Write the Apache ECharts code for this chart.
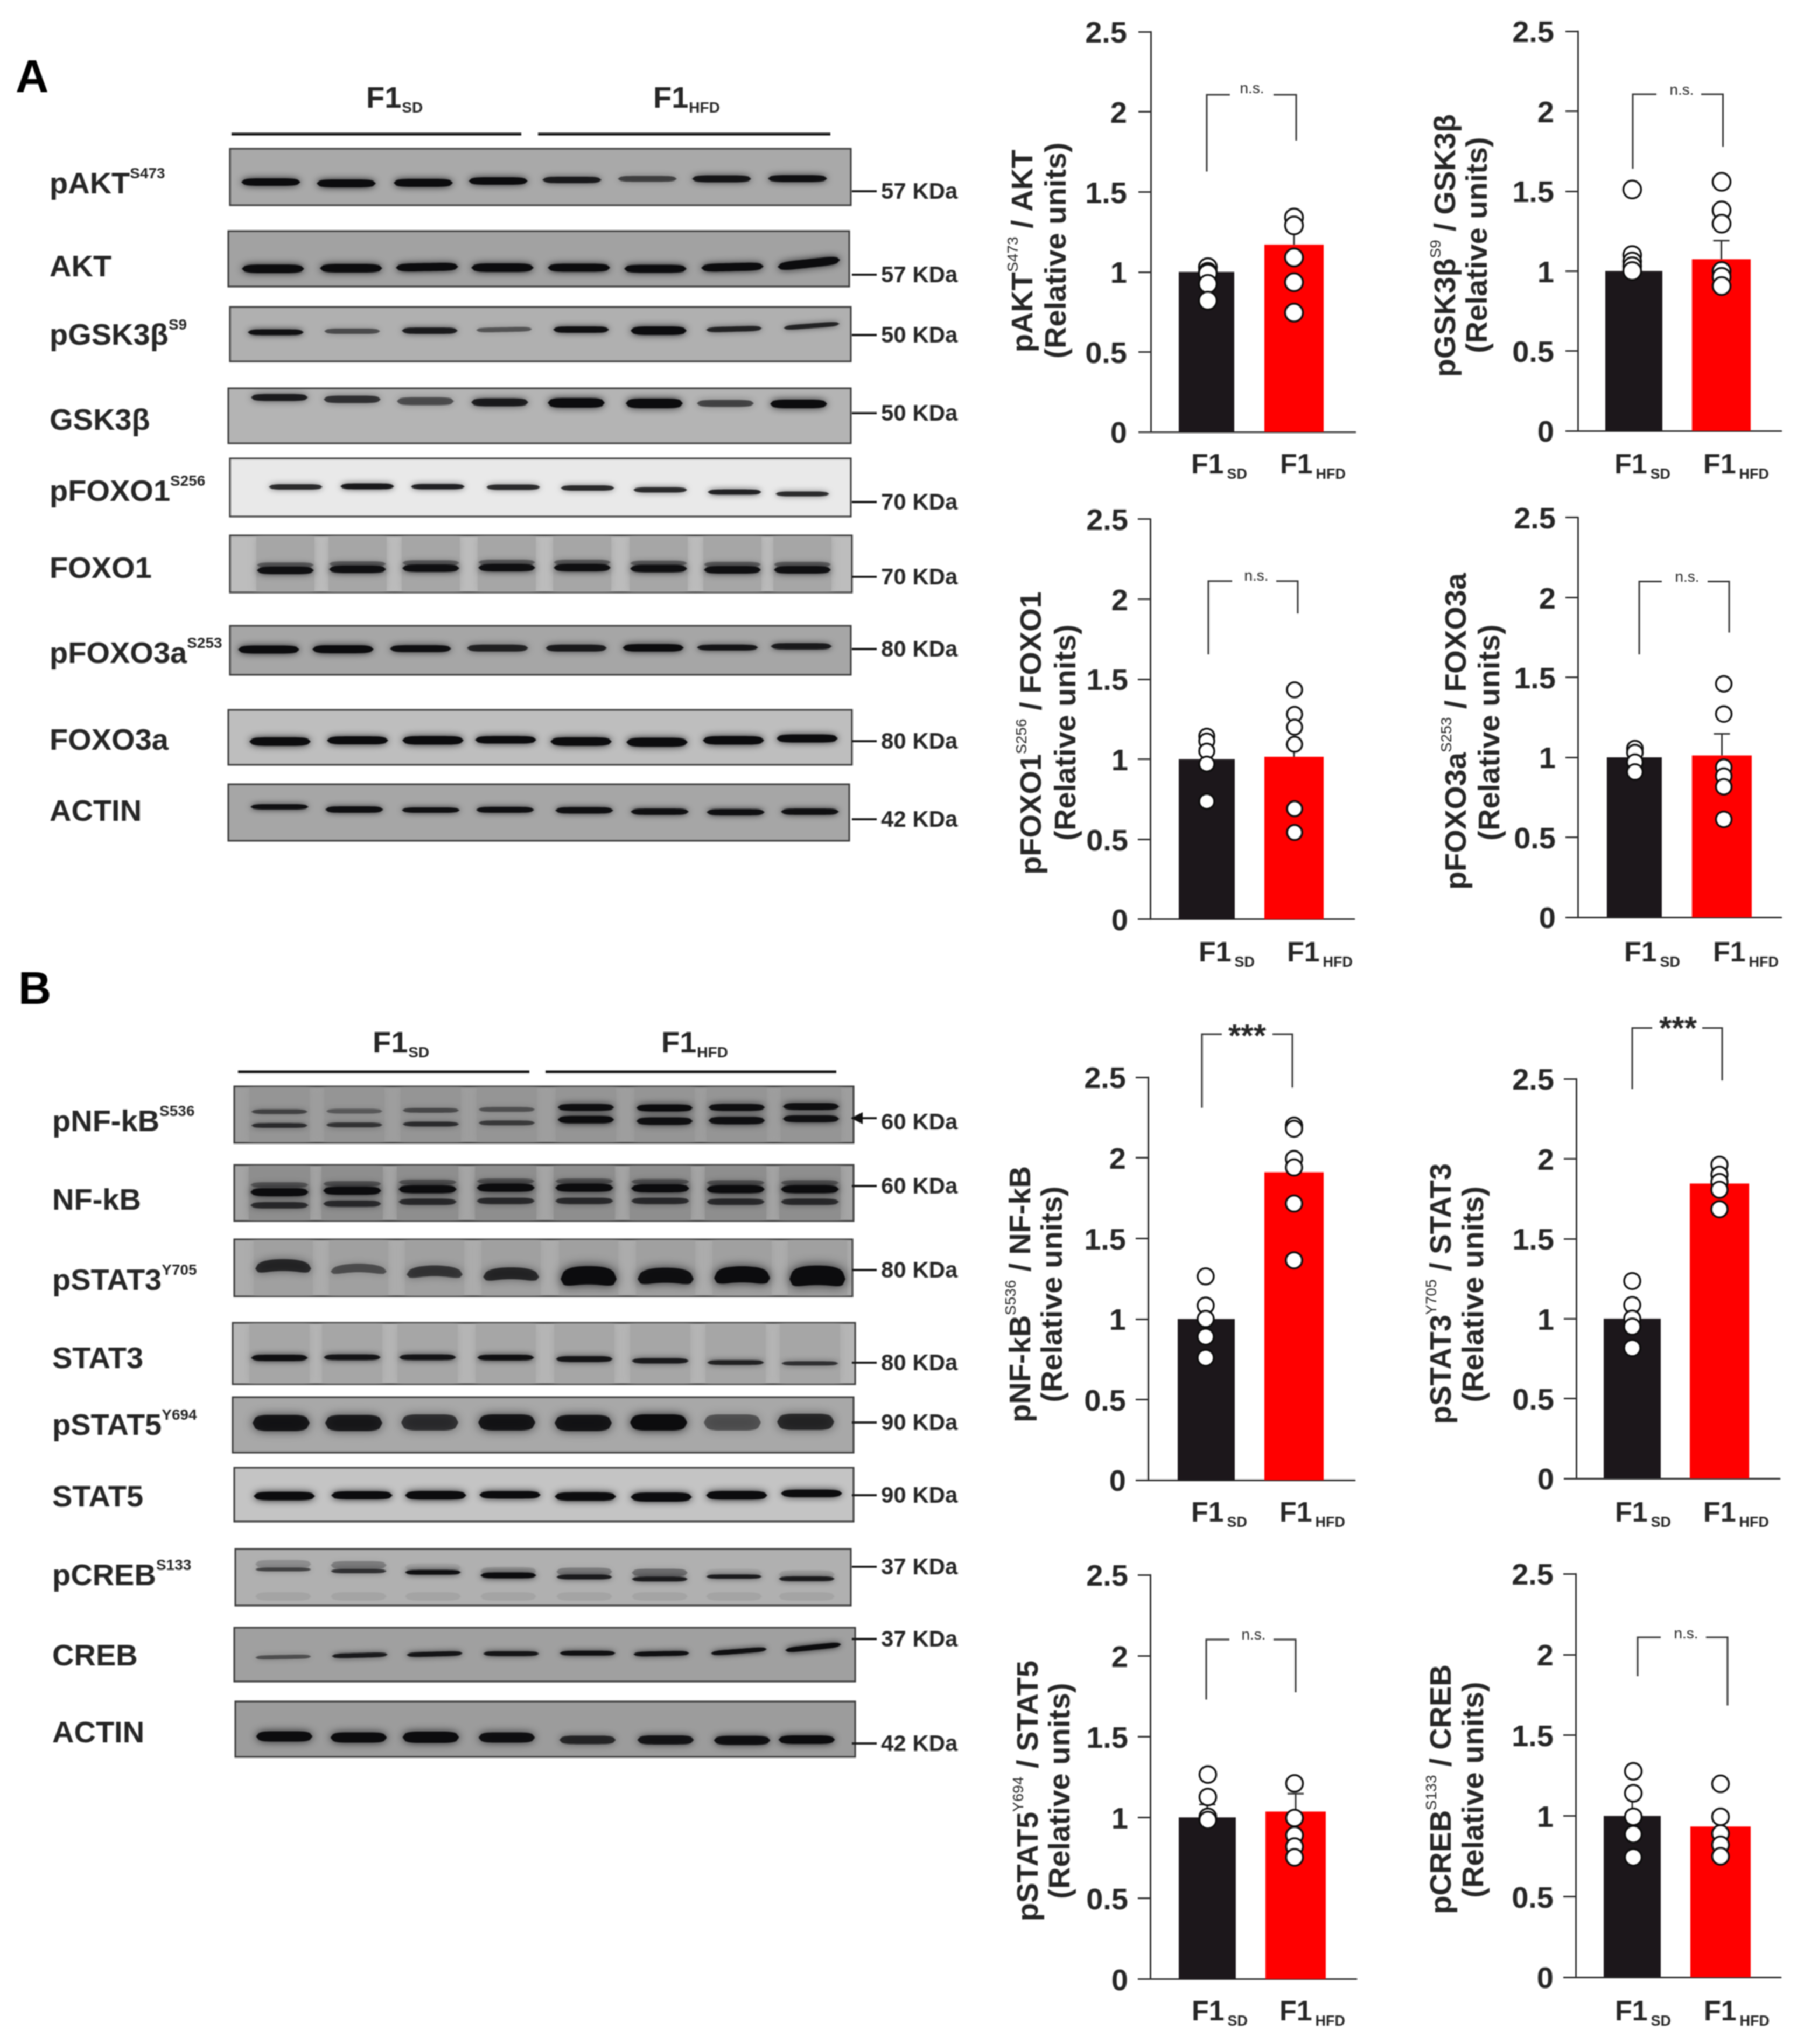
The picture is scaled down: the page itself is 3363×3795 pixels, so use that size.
<!DOCTYPE html>
<html><head><meta charset="utf-8">
<style>html,body{margin:0;padding:0;background:#fff}#c{width:3363px;height:3795px;filter:blur(1px)}</style>
<script src="https://cdn.jsdelivr.net/npm/echarts@6/dist/echarts.min.js"></script>
</head><body><div id="c"></div>
<script>
// ---------- chart values ----------
const groups=['SD','HFD'];
const yTicksMax=2.5, yTicksStep=0.5;
const panelNames=['pAKT','pGSK3β','pFOXO1','pFOXO3a','pNF-kB','pSTAT3','pSTAT5','pCREB'];
const meanSD =[1,1,1,1,1,1,1,1];
const meanHFD=[1.17,1.074,1.015,1.012,1.91,1.845,1.036,0.934];
const errSD  =[1.04,1.09,1.07,1.03,1.08,1.08,1.08,1.13];
const errHFD =[1.29,1.19,1.09,1.147,1.99,1.93,1.147,1.0];
const pts_pAKT_SD=[1.03,1.0,0.99,0.925,0.82];
const pts_pAKT_HFD=[1.34,1.29,1.09,0.935,0.745];
const pts_pGSK_SD=[1.51,1.10,1.06,1.03,1.0];
const pts_pGSK_HFD=[1.558,1.38,1.296,1.0,0.964,0.906];
const pts_pFOXO1_SD=[1.144,1.113,1.05,0.97,0.736];
const pts_pFOXO1_HFD=[1.433,1.28,1.2,1.093,0.69,0.542];
const pts_pFOXO3_SD=[1.055,1.03,0.97,0.908];
const pts_pFOXO3_HFD=[1.459,1.27,0.939,0.882,0.816,0.612];
const pts_pNFkB_SD=[1.264,1.083,1.0,0.89,0.759];
const pts_pNFkB_HFD=[2.2,2.18,1.993,1.94,1.716,1.364];
const pts_pSTAT3_SD=[1.235,1.085,1.0,0.95,0.816];
const pts_pSTAT3_HFD=[1.963,1.9,1.855,1.806,1.684];
const pts_pSTAT5_SD=[1.265,1.126,1.004,0.984];
const pts_pSTAT5_HFD=[1.21,0.996,0.89,0.82,0.753];
const pts_pCREB_SD=[1.276,1.14,0.994,0.886,0.743];
const pts_pCREB_HFD=[1.198,0.994,0.89,0.82,0.749];
const ptsSD=[pts_pAKT_SD,pts_pGSK_SD,pts_pFOXO1_SD,pts_pFOXO3_SD,pts_pNFkB_SD,pts_pSTAT3_SD,pts_pSTAT5_SD,pts_pCREB_SD];
const ptsHFD=[pts_pAKT_HFD,pts_pGSK_HFD,pts_pFOXO1_HFD,pts_pFOXO3_HFD,pts_pNFkB_HFD,pts_pSTAT3_HFD,pts_pSTAT5_HFD,pts_pCREB_HFD];
// bracket [left foot, top, right foot] in y-axis units, and its label
const bracketLevels=[[1.627,2.106,1.82],[1.64,2.106,1.777],[1.654,2.113,1.91],[1.643,2.10,1.78],[2.31,2.767,2.436],[2.436,2.818,2.49],[1.729,2.10,1.774],[1.866,2.106,1.684]];
const bracketText=['n.s.','n.s.','n.s.','n.s.','***','***','n.s.','n.s.'];

// ---------- blot readings: lane centre, band offset, band strength, band thickness ----------
const lane_pAKT=[503,643,786,925,1062,1202,1340,1481], y_pAKT=[62,64.5,63.5,60,58,56,56,55.5], d_pAKT=[1,1,1,1,.85,.6,.9,.95], t_pAKT=[12,13,13,12,10,9,11,11];
const lane_AKT=[507,652,793,933,1075,1217,1360,1502], y_AKT=[70,69,67,68,68,70,67,60], t_AKT=[14,14,13,14,13,13,13,14];
const lane_pGSK=[512,654,798,936,1079,1223,1363,1507], y_pGSK=[47,45,44,42,42,44,41,35], d_pGSK=[.95,.55,.85,.5,.95,1,.8,.8], t_pGSK=[9,8,10,7,10,14,8,7];
const lane_GSK=[519,654,790,928,1070,1215,1347,1483], y_GSK=[17,20.5,24,26,27,28,28,29], d_GSK=[.85,.7,.55,.85,1,1,.6,1], t_GSK=[11,12,13,13,16,16,11,14];
const lane_pFO1=[549,682,813,953,1091,1226,1364,1490], y_pFO1=[53,52,52.5,53.5,55,58.5,62.6,66], d_pFO1=[.8,.9,.85,.8,.8,.8,.85,.8], t_pFO1=[8,9,8,8,8,8,8,7];
const lane_FO1=[530,664,800,941,1081,1223,1360,1490], y_FO1=[65,63,61,60,60,61.7,64,64], yu_FO1=[55,53,51,50,50,51.7,54,54];
const lane_pFO3=[499,637,781,924,1070,1213,1351,1488], y_pFO3=[44,43.4,42.3,41.3,41.3,40.8,40.3,38], d_pFO3=[1,1,.95,.8,.85,1,.9,.85], t_pFO3=[13,13,11,11,11,12,9,10];
const lane_FO3=[520,664,804,939,1079,1220,1362,1499], y_FO3=[58.7,56.6,56.6,55.6,58.7,60,56.6,53], t_FO3=[14,13,14,12,14,15,14,13];
const lane_ACTa=[519,658,800,938,1085,1225,1366,1504], y_ACTa=[42,47,48,47.5,48.5,51,52,51], t_ACTa=[8,10,8,9,10,10,10,10];
const lane_pNF=[519,658,800,941,1088,1234,1368,1506], yu_pNF=[47,46,44.4,42.8,39,40,39,37.4], yl_pNF=[72.6,71.5,70,67.8,61.8,64.5,63.4,60.2], du_pNF=[.55,.4,.5,.45,.95,1,.95,.95], dl_pNF=[.7,.65,.7,.6,1,.95,.95,.95], tu_pNF=[7,7,7,7,11,11,11,11], tl_pNF=[7,7,7,7,12,12,12,11];
const lane_NF=[519,654,794,939,1085,1226,1366,1504], ym_NF=[50.4,47.7,45,42.3,42.3,43.4,45,45], yl_NF=[74.8,72,68.3,66.7,66.7,66.7,68.3,68.3], yu_NF=[37,35,32,30,30,31,33,33];
const lane_pS3=[526,666,807,949,1093,1236,1378,1518], y_pS3=[47.7,53,58.5,62.9,66.7,66.7,65,66.7], d_pS3=[.75,.5,.65,.75,1,.95,1,1], t_pS3=[20,14,18,20,32,26,28,34];
const lane_S3=[519,654,794,939,1085,1226,1366,1504], y_S3=[65,64,64,64.5,67.2,70.5,73.7,75.3], d_S3=[.95,.9,.9,.95,.9,.85,.8,.7], t_S3=[10,9,9,9,9,8,7,6];
const lane_pS5=[522,657,798,941,1083,1223,1360,1496], y_pS5=[48,48,47,47,48,47,47,46], d_pS5=[.9,.85,.7,.9,.9,1,.5,.75];
const lane_S5=[528,672,809,947,1087,1228,1368,1507], y_S5=[52.7,51.3,51.3,50.4,53.6,54.5,51.3,47.8], t_S5=[14,13,14,12,14,15,14,12];
const lane_pCR=[526,666,804,944,1085,1225,1363,1498], y_pCR=[38,41,43.3,49,52,55.8,51.3,55.3], d_pCR=[.6,.7,.95,1,.85,.85,.85,.85], t_pCR=[5,6,7,9,7,7,6,7], yu_pCR=[28,30,34,41,42,44,44,47], du_pCR=[.18,.28,.08,.14,.28,.36,.06,.1], yf_pCR=[88,88,88,88,88,88,88,88];
const lane_CR=[526,668,807,949,1091,1228,1372,1510], y_CR=[54.5,51.3,49,48.2,47.3,48.2,43.8,36.6], d_CR=[.5,.85,.9,.9,.95,.95,.95,1], t_CR=[6,7,7,7,7,7,7,8], tilt_CR=[-2,-3,-3,0,0,-2,-8,-11];
const lane_ACTb=[528,666,800,941,1091,1236,1378,1498], y_ACTb=[65,67,66.5,67,71.4,71.4,72.3,71], d_ACTb=[1,1,1,.95,.75,.9,.95,1], t_ACTb=[17,17,19,17,14,15,15,14];
const all=(v)=>Array(8).fill(v);

// ---------- layout (reference pixels) ----------
const layout=[
 {ax:2137,top:59,zero:802,right:2517,bk:[2189,2292],rd:[2348,2458],ptx:[2243,2403],sym:33,mg:44,lab:[2264,2438],labY:33,br:[2241,2284,2365,2407],tx:2325,tdy:-11,t1:[1902,466],t2:[1964,465]},
 {ax:2930,top:58,zero:800,right:3308,bk:[2981,3087],rd:[3142,3251],ptx:[3031,3197],sym:33,mg:44,lab:[3050,3224],labY:35,br:[3032,3076,3159,3199.5],tx:3123,tdy:-7,t1:[2687,456],t2:[2746,455]},
 {ax:2136,top:963.6,zero:1706.7,right:2515,bk:[2189,2293],rd:[2348,2458],ptx:[2241,2404],sym:28,mg:41,lab:[2278,2451],labY:34,br:[2244,2288,2370,2410],tx:2333,tdy:-8,t1:[1918,1361],t2:[1982,1360]},
 {ax:2930,top:960.6,zero:1703,right:3308,bk:[2984,3086],rd:[3142,3253],ptx:[3036,3201],sym:29,mg:41,lab:[3068,3242],labY:38,br:[3044,3086,3171,3211],tx:3133,tdy:-7,t1:[2707,1358],t2:[2769,1360]},
 {ax:2132,top:2000,zero:2748,right:2516,bk:[2187,2293],rd:[2348,2458],ptx:[2239,2403],sym:30,mg:41,lab:[2264,2437],labY:33,br:[2232,2269,2363,2400],tx:2316,tdy:6,t1:[1898,2403],t2:[1957,2403]},
 {ax:2927,top:2003,zero:2745,right:3305,bk:[2978,3084],rd:[3138,3248],ptx:[3031,3193],sym:30,mg:41,lab:[3051,3224],labY:36,br:[3031,3068,3161,3198],tx:3116,tdy:4,t1:[2679,2402],t2:[2739,2403]},
 {ax:2136,top:2924,zero:3674.6,right:2519,bk:[2189,2295],rd:[2350,2462],ptx:[2243,2404],sym:31,mg:41,lab:[2265,2437],labY:32,br:[2240,2283,2365,2406],tx:2328,tdy:-8,t1:[1912,3325],t2:[1971,3325]},
 {ax:2926,top:2922,zero:3671,right:3307,bk:[2978,3084],rd:[3139,3251],ptx:[3033,3195],sym:31,mg:41,lab:[3051,3225],labY:36,br:[3041,3084,3168,3208],tx:3131,tdy:-6,t1:[2679,3322],t2:[2739,3323]}
];
const titleTop=[
 ['pAKT','S473',' / AKT'],['pGSK3β','S9',' / GSK3β'],['pFOXO1','S256',' / FOXO1'],['pFOXO3a','S253',' / FOXO3a'],
 ['pNF-kB','S536',' / NF-kB'],['pSTAT3','Y705',' / STAT3'],['pSTAT5','Y694',' / STAT5'],['pCREB','S133',' / CREB']];
const blots=[
 {label:'pAKT',sup:'S473',kda:'57 KDa',box:[427,276,1580,381],bg:'#a9a9a9',w:110,ly:344,ky:357,tk:355,lanes:lane_pAKT,rows:[{y:y_pAKT,d:d_pAKT,t:t_pAKT}]},
 {label:'AKT',sup:'',kda:'57 KDa',box:[424,429,1577,532],bg:'#a2a2a2',w:116,ly:498,ky:512,tk:510,lanes:lane_AKT,rows:[{y:y_AKT,d:all(1),t:t_AKT,tilt:[0,0,-2,0,0,0,-3,-13]}]},
 {label:'pGSK3β',sup:'S9',kda:'50 KDa',box:[427,570,1580,671],bg:'#b0b0b0',w:104,ly:625,ky:624,tk:622,lanes:lane_pGSK,rows:[{y:y_pGSK,d:d_pGSK,t:t_pGSK,tilt:[0,0,0,-2,0,0,-3,-8]}]},
 {label:'GSK3β',sup:'',kda:'50 KDa',box:[424,721,1580,823],bg:'#b4b4b4',w:106,ly:783,ky:769,tk:767,lanes:lane_GSK,rows:[{y:y_GSK,d:d_GSK,t:t_GSK}]},
 {label:'pFOXO1',sup:'S256',kda:'70 KDa',box:[427,851,1580,959],bg:'#e9e9e9',w:100,ly:915,ky:934,tk:932,lanes:lane_pFO1,rows:[{y:y_pFO1,d:d_pFO1,t:t_pFO1}]},
 {label:'FOXO1',sup:'',kda:'70 KDa',box:[427,994,1582,1100],bg:'#bdbdbd',tone:'#a6a6a6',toneW:108,w:106,ly:1058,ky:1073,tk:1071,lanes:lane_FO1,rows:[{y:yu_FO1,d:all(.4),t:all(8)},{y:y_FO1,d:all(.95),t:all(12)}]},
 {label:'pFOXO3a',sup:'S253',kda:'80 KDa',box:[427,1162,1580,1253],bg:'#a6a6a6',w:114,ly:1216,ky:1207,tk:1205,lanes:lane_pFO3,rows:[{y:y_pFO3,d:d_pFO3,t:t_pFO3}]},
 {label:'FOXO3a',sup:'',kda:'80 KDa',box:[424,1318,1582,1420],bg:'#bebebe',w:114,ly:1377,ky:1378,tk:1376,lanes:lane_FO3,rows:[{y:y_FO3,d:all(1),t:t_FO3}]},
 {label:'ACTIN',sup:'',kda:'42 KDa',box:[424,1456,1577,1561],bg:'#a6a6a6',w:108,ly:1509,ky:1523,tk:1521,lanes:lane_ACTa,rows:[{y:y_ACTa,d:all(.95),t:t_ACTa}]},
 {label:'pNF-kB',sup:'S536',kda:'60 KDa',box:[435,2017,1585,2122],bg:'#9f9f9f',tone:'#959595',toneW:112,w:105,ly:2085,ky:2085,tk:2076,arrow:2076,lanes:lane_pNF,rows:[{y:yu_pNF,d:du_pNF,t:tu_pNF},{y:yl_pNF,d:dl_pNF,t:tl_pNF}]},
 {label:'NF-kB',sup:'',kda:'60 KDa',box:[435,2163,1585,2267],bg:'#a6a6a6',tone:'#8e8e8e',toneW:114,w:108,ly:2231,ky:2204,tk:2202,lanes:lane_NF,rows:[{y:yu_NF,d:all(.4),t:all(8)},{y:ym_NF,d:all(1),t:all(13)},{y:yl_NF,d:all(.7),t:all(10)}]},
 {label:'pSTAT3',sup:'Y705',kda:'80 KDa',box:[435,2301,1583,2407],bg:'#adadad',tone:'#a0a0a0',toneW:110,w:104,arc:7,ly:2380,ky:2360,tk:2358,lanes:lane_pS3,rows:[{y:y_pS3,d:d_pS3,t:t_pS3}]},
 {label:'STAT3',sup:'',kda:'80 KDa',box:[432,2456,1588,2570],bg:'#b6b6b6',tone:'#a6a6a6',toneW:112,w:106,ly:2525,ky:2532,tk:2530,lanes:lane_S3,rows:[{y:y_S3,d:d_S3,t:t_S3}]},
 {label:'pSTAT5',sup:'Y694',kda:'90 KDa',box:[432,2594,1585,2697],bg:'#a8a8a8',w:106,ly:2649,ky:2643,tk:2641,lanes:lane_pS5,rows:[{y:y_pS5,d:d_pS5,t:all(28)}]},
 {label:'STAT5',sup:'',kda:'90 KDa',box:[435,2725,1585,2825],bg:'#c4c4c4',w:114,ly:2782,ky:2778,tk:2776,lanes:lane_S5,rows:[{y:y_S5,d:all(1),t:t_S5}]},
 {label:'pCREB',sup:'S133',kda:'37 KDa',box:[437,2876,1580,2981],bg:'#b0b0b0',w:104,ly:2928,ky:2911,tk:2909,lanes:lane_pCR,rows:[{y:yf_pCR,d:all(.07),t:all(14)},{y:yu_pCR,d:du_pCR,t:all(13)},{y:y_pCR,d:d_pCR,t:t_pCR}]},
 {label:'CREB',sup:'',kda:'37 KDa',box:[435,3022,1588,3122],bg:'#a0a0a0',w:104,ly:3077,ky:3045,tk:3043,lanes:lane_CR,rows:[{y:y_CR,d:d_CR,t:t_CR,tilt:tilt_CR}]},
 {label:'ACTIN',sup:'',kda:'42 KDa',box:[437,3159,1588,3262],bg:'#9c9c9c',w:105,ly:3220,ky:3239,tk:3237,lanes:lane_ACTb,rows:[{y:y_ACTb,d:d_ACTb,t:t_ACTb}]}
];
const INK='#262626';
const FONT='"Liberation Sans",Arial,sans-serif';

// ---------- build ----------
const grid=[],xAxis=[],yAxis=[],series=[],gfx=[];
function tx(L,px){const u=L.ptu;return 1+(px-L.c1)/u;}
layout.forEach((L,i)=>{
  L.c1=(L.bk[0]+L.bk[1])/2; L.c2=(L.rd[0]+L.rd[1])/2; L.ptu=L.c2-L.c1;
  const xmin=tx(L,L.ax), xmax=tx(L,L.right);
  grid.push({left:L.ax,top:L.top,width:L.right-L.ax,height:L.zero-L.top,containLabel:false});
  const labVals=[tx(L,L.lab[0]),tx(L,L.lab[1])];
  xAxis.push({gridIndex:i,type:'value',min:xmin,max:xmax,splitLine:{show:false},axisTick:{show:false},
    axisLine:{show:true,onZero:false,lineStyle:{color:'#2e2e2e',width:3}},
    axisLabel:{show:true,customValues:labVals,margin:L.labY,
      formatter:(v)=> '{a|F1}{b|'+(v===labVals[0]?groups[0]:groups[1])+'}',
      rich:{a:{fontFamily:FONT,fontWeight:'bold',fontSize:52,color:INK,lineHeight:60,verticalAlign:'middle'},
            b:{fontFamily:FONT,fontWeight:'bold',fontSize:27,color:INK,lineHeight:30,verticalAlign:'bottom',padding:[0,0,0,6]}}}});
  xAxis.push({gridIndex:i,type:'value',min:xmin,max:xmax,show:false});
  yAxis.push({gridIndex:i,type:'value',min:0,max:yTicksMax,interval:yTicksStep,splitLine:{show:false},
    axisLine:{show:true,onZero:false,lineStyle:{color:'#2e2e2e',width:3}},
    axisTick:{show:true,length:23,lineStyle:{color:'#2e2e2e',width:3}},
    axisLabel:{margin:L.mg,formatter:(v)=>'{v|'+v+'}',
      rich:{v:{fontFamily:FONT,fontWeight:'bold',fontSize:56,color:INK,lineHeight:56,padding:[10,0,0,0]}}}});
  const xa=i*2;
  series.push({type:'bar',name:panelNames[i]+' F1SD',xAxisIndex:xa,yAxisIndex:i,barWidth:L.bk[1]-L.bk[0],data:[[1,meanSD[i]]],
    itemStyle:{color:'#1c171b'},z:2,animation:false});
  series.push({type:'bar',name:panelNames[i]+' F1HFD',xAxisIndex:xa+1,yAxisIndex:i,barWidth:L.rd[1]-L.rd[0],data:[[2,meanHFD[i]]],
    itemStyle:{color:'#ff0000'},z:2,animation:false});
  // error bars
  series.push({type:'custom',name:panelNames[i]+' SEM',xAxisIndex:xa,yAxisIndex:i,z:3,animation:false,silent:true,
    data:[[1,meanSD[i],errSD[i]],[2,meanHFD[i],errHFD[i]]],
    renderItem:(p,api)=>{const a=api.coord([api.value(0),api.value(1)]),b=api.coord([api.value(0),api.value(2)]);
      const st={stroke:'#2e2e2e',lineWidth:3,fill:null};
      return {type:'group',children:[
        {type:'line',shape:{x1:a[0],y1:a[1],x2:b[0],y2:b[1]},style:st},
        {type:'line',shape:{x1:b[0]-15,y1:b[1],x2:b[0]+15,y2:b[1]},style:st}]};}});
  // individual points
  const symStyle={color:'#fff',borderColor:'#0c0c0c',borderWidth:3.5,opacity:1};
  [[ptsSD[i],L.ptx[0]],[ptsHFD[i],L.ptx[1]]].forEach(([vals,px],g)=>{
    series.push({type:'scatter',name:panelNames[i]+' '+groups[g]+' points',xAxisIndex:xa,yAxisIndex:i,symbolSize:L.sym,z:4,animation:false,
      itemStyle:symStyle,data:vals.map(v=>[tx(L,px),v])});
  });
  // significance bracket
  const lv=bracketLevels[i], bx=L.br.map(p=>tx(L,p)), lbl=bracketText[i];
  series.push({type:'custom',name:panelNames[i]+' bracket',xAxisIndex:xa,yAxisIndex:i,z:5,animation:false,silent:true,clip:false,
    data:[[bx[0],lv[0],bx[1],lv[1],bx[2],lv[2],bx[3]]],
    renderItem:(p,api)=>{const q=(a,b)=>api.coord([a,b]);
      const A=q(bx[0],lv[0]),B=q(bx[0],lv[1]),C=q(bx[1],lv[1]),D=q(bx[2],lv[1]),E=q(bx[3],lv[1]),F=q(bx[3],lv[2]);
      const st={stroke:'#333',lineWidth:3,fill:null};
      return {type:'group',children:[
        {type:'polyline',shape:{points:[A,B,C]},style:st},
        {type:'polyline',shape:{points:[D,E,F]},style:st},
        {type:'text',x:api.coord([tx(L,L.tx),0])[0],y:B[1]+L.tdy,style:{text:lbl,align:'center',verticalAlign:'middle',
          font:(lbl==='***'?'bold 60px ':'28px ')+FONT,fill:INK}}]};}});
  // axis titles
  const t=titleTop[i];
  gfx.push({type:'text',x:L.t1[0],y:L.t1[1],rotation:Math.PI/2,z:10,style:{text:'{m|'+t[0]+'}{s|'+t[1]+'}{m|'+t[2]+'}',align:'center',verticalAlign:'middle',
    rich:{m:{font:'bold 56px '+FONT,fill:INK,lineHeight:68,verticalAlign:'middle'},s:{font:'28px '+FONT,fill:INK,lineHeight:30,verticalAlign:'top'}}}});
  gfx.push({type:'text',x:L.t2[0],y:L.t2[1],rotation:Math.PI/2,z:10,style:{text:'(Relative units)',align:'center',verticalAlign:'middle',font:'bold 56px '+FONT,fill:INK}});
});

const baseGrid=layout.length;
blots.forEach((B,k)=>{
  const g=baseGrid+k,[x0,y0,x1,y1]=B.box;
  grid.push({left:x0,top:y0,width:x1-x0,height:y1-y0,show:true,backgroundColor:B.bg,borderColor:'#383838',borderWidth:3,z:1});
  xAxis.push({gridIndex:g,type:'value',min:x0,max:x1,show:false});
  yAxis.push({gridIndex:g,type:'value',min:0,max:y1-y0,inverse:true,show:false});
  const xi=baseGrid*2+k;
  if(B.tone){
    series.push({type:'custom',name:B.label+' lanes',xAxisIndex:xi,yAxisIndex:g,z:2,animation:false,silent:true,clip:true,
      data:B.lanes.map(l=>[l]),
      renderItem:(p,api)=>{const a=api.coord([api.value(0)-B.toneW/2,3]),b=api.coord([api.value(0)+B.toneW/2,y1-y0-3]);
        return {type:'rect',shape:{x:a[0],y:a[1],width:b[0]-a[0],height:b[1]-a[1]},style:{fill:B.tone,shadowBlur:14,shadowColor:B.tone}};}});
  }
  B.rows.forEach((R,ri)=>{
    series.push({type:'custom',name:B.label+' bands '+ri,xAxisIndex:xi,yAxisIndex:g,z:3,animation:false,silent:true,clip:true,
      data:B.lanes.map((l,n)=>[l,R.y[n],R.d[n],R.t[n],R.tilt?R.tilt[n]:0]),
      renderItem:(p,api)=>{
        const cx=api.value(0),cy=api.value(1),d=api.value(2),th=api.value(3)+2,tilt=api.value(4),arc=B.arc||0,top=[],bot=[];
        for(let s=-1;s<=1.0001;s+=0.1){
          const yc=cy+tilt*s/2+arc*s*s, h=th/2*Math.pow(Math.max(0,1-Math.pow(Math.abs(s),6)),0.5);
          top.push(api.coord([cx+s*B.w/2,yc-h])); bot.unshift(api.coord([cx+s*B.w/2,yc+h]));
        }
        const col='rgba(12,12,14,'+d+')';
        return {type:'polygon',shape:{points:top.concat(bot)},style:{fill:col,shadowBlur:8+th*0.35,shadowColor:'rgba(12,12,14,'+(d*0.85)+')'}};
      }});
  });
  // lane label, weight marker
  gfx.push({type:'text',x:k<9?92:97,y:B.ly,z:10,style:{text:'{m|'+B.label+'}'+(B.sup?'{s|'+B.sup+'}':''),align:'left',verticalAlign:'middle',
    rich:{m:{font:'bold 56px '+FONT,fill:INK,lineHeight:70,verticalAlign:'middle'},s:{font:'bold 28px '+FONT,fill:INK,lineHeight:30,verticalAlign:'top'}}}});
  const my=B.tk;
  gfx.push({type:'line',z:10,shape:{x1:1582,y1:my,x2:1628,y2:my},style:{stroke:'#1a1a1a',lineWidth:4}});
  if(B.arrow) gfx.push({type:'polygon',z:10,shape:{points:[[1580,my],[1602,my-11],[1602,my+11]]},style:{fill:'#111'}});
  gfx.push({type:'text',x:1636,y:B.ky,z:10,style:{text:B.kda,align:'left',verticalAlign:'middle',font:'bold 42px '+FONT,fill:INK}});
});

// section letters, lane-group headers
[['A',29,148,85],['B',34,1841,85]].forEach(([s,x,y,f])=>gfx.push({type:'text',x,y,z:10,style:{text:s,align:'left',verticalAlign:'middle',font:'bold '+f+'px '+FONT,fill:'#000'}}));
function head(x,y,sub){gfx.push({type:'text',x,y,z:10,style:{text:'{a|F1}{b|'+sub+'}',align:'left',verticalAlign:'middle',
  rich:{a:{font:'bold 56px '+FONT,fill:INK,lineHeight:60,verticalAlign:'middle'},b:{font:'bold 28px '+FONT,fill:INK,lineHeight:30,verticalAlign:'bottom',padding:[0,0,0,1]}}}});}
head(680,185,'SD');head(1213,185,'HFD');head(692,1939,'SD');head(1228,1939,'HFD');
[[430,968,249],[999,1542,249],[442,983,1990],[1013,1553,1990]].forEach(([a,b,y])=>gfx.push({type:'line',z:10,shape:{x1:a,y1:y,x2:b,y2:y},style:{stroke:'#111',lineWidth:5}}));

const chart=echarts.init(document.getElementById('c'),null,{renderer:'canvas',width:3363,height:3795});
chart.setOption({animation:false,backgroundColor:'#fff',tooltip:{show:false},grid,xAxis,yAxis,series,graphic:{elements:gfx}});
</script></body></html>
